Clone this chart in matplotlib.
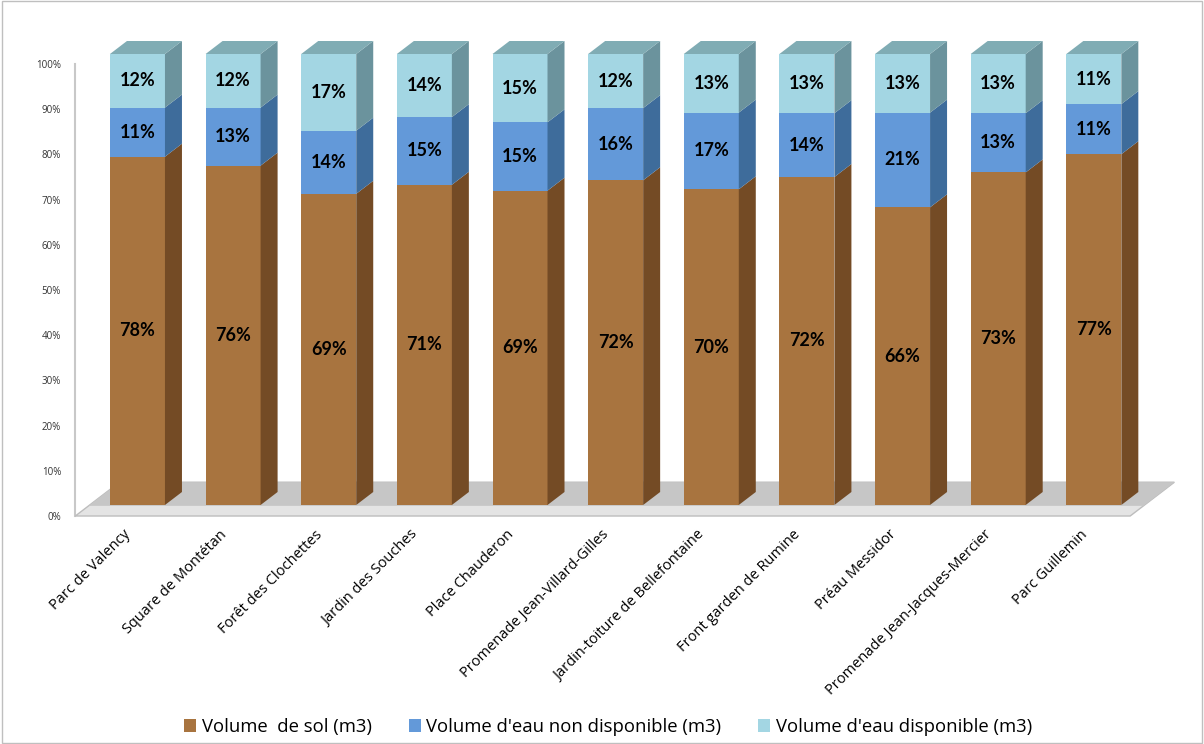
import numpy as np
import matplotlib
matplotlib.use("Agg")
import matplotlib.pyplot as plt
import matplotlib.transforms as mtransforms
from matplotlib.patches import Polygon, Patch, Rectangle

plt.rcParams['font.family'] = ['Open Sans', 'DejaVu Sans']

# Parks and their volume shares (%)
parks = ['Parc de Valency', 'Square de Montétan', 'Forêt des Clochettes',
         'Jardin des Souches', 'Place Chauderon', 'Promenade Jean-Villard-Gilles',
         'Jardin-toiture de Bellefontaine', 'Front garden de Rumine',
         'Préau Messidor', 'Promenade Jean-Jacques-Mercier', 'Parc Guillemin']
sol = [78, 76, 69, 71, 69, 72, 70, 72, 66, 73, 77]
eau_non_dispo = [11, 13, 14, 15, 15, 16, 17, 14, 21, 13, 11]
eau_dispo = [12, 12, 17, 14, 15, 12, 13, 13, 13, 13, 11]

series_names = ['Volume  de sol (m3)', "Volume d'eau non disponible (m3)",
                "Volume d'eau disponible (m3)"]
front_colors = ['#a8743f', '#6399d9', '#a3d6e3']
side_colors = ['#744b25', '#3e6c9b', '#6b939d']
top_color = '#80acb4'

W, H = 1204, 744
fig = plt.figure(figsize=(W / 100, H / 100), dpi=100)

def px_axes(left, top, right, bottom):
    return [left / W, 1 - bottom / H, (right - left) / W, (bottom - top) / H]

# back wall axis carrying the percent ticks
axb = fig.add_axes(px_axes(75, 64, 1156, 516))
axb.set_ylim(0, 100)
axb.set_xlim(0, 1)
axb.patch.set_alpha(0)
for s in ['top', 'right', 'bottom']:
    axb.spines[s].set_visible(False)
axb.spines['left'].set_color('#c8c8c8')
axb.spines['left'].set_linewidth(1.5)
axb.set_xticks([])
axb.set_yticks(np.arange(0, 101, 10))
axb.set_yticklabels([f'{v}%' for v in range(0, 101, 10)], fontsize=7, color='#333333')
axb.tick_params(axis='y', length=0, pad=10)

# main axes for the bars (front faces)
ax = fig.add_axes(px_axes(75.3, 54, 1156, 505))
ax.set_xlim(-0.65, 10.65)
ax.set_ylim(0, 100)
ax.patch.set_alpha(0)
for s in ax.spines.values():
    s.set_visible(False)

x = np.arange(len(parks))
width = 0.575
# depth offset of the 3d look, in data units
dx = 17 / 95.65
dy = 13 / 4.51

# floor
fx0, fx1 = -0.65, 10.38
fy0 = -2.44
fdx, fdy = 2.6 * dx, 2.6 * dy
floor = Polygon([(fx0, fy0), (fx1, fy0), (fx1 + fdx, fy0 + fdy), (fx0 + fdx, fy0 + fdy)],
                closed=True, facecolor='#e4e4e4', edgecolor='#bdbdbd', lw=1.0,
                clip_on=False, zorder=1)
ax.add_patch(floor)
inner = Polygon([(fx0 + 0.3 * fdx, fy0 + 0.3 * fdy), (fx1 + 0.3 * fdx, fy0 + 0.3 * fdy),
                 (fx1 + fdx, fy0 + fdy), (fx0 + fdx, fy0 + fdy)],
                closed=True, facecolor='#c6c6c6', edgecolor='none', clip_on=False, zorder=1)
ax.add_patch(inner)

data = np.array([sol, eau_non_dispo, eau_dispo], dtype=float)
totals = data.sum(axis=0)
shares = data / totals * 100

bottom = np.zeros(len(parks))
for k in range(3):
    h = shares[k]
    ax.bar(x, h, width=width, bottom=bottom, color=front_colors[k],
           edgecolor='none', zorder=3, clip_on=False)
    for i in range(len(parks)):
        xr = x[i] + width / 2
        y0, y1 = bottom[i], bottom[i] + h[i]
        side = Polygon([(xr, y0), (xr + dx, y0 + dy), (xr + dx, y1 + dy), (xr, y1)],
                       closed=True, facecolor=side_colors[k], edgecolor='none',
                       zorder=3, clip_on=False)
        ax.add_patch(side)
        ax.text(x[i], (y0 + y1) / 2, f'{int(data[k, i])}%', ha='center', va='center',
                fontsize=13, fontweight='bold', color='black', zorder=5,
                family=['Lato', 'DejaVu Sans'])
    bottom = bottom + h

for i in range(len(parks)):
    xl, xr, t = x[i] - width / 2, x[i] + width / 2, bottom[i]
    top = Polygon([(xl, t), (xl + dx, t + dy), (xr + dx, t + dy), (xr, t)],
                  closed=True, facecolor=top_color, edgecolor='none',
                  zorder=3, clip_on=False)
    ax.add_patch(top)

ax.set_yticks([])
ax.set_xticks(x)
ax.set_xticklabels(parks, rotation=45, ha='right', rotation_mode='anchor',
                   fontsize=10.5, color='black')
ax.tick_params(axis='x', length=0, pad=16)
shift = mtransforms.ScaledTranslation(-14 / 100, 0, fig.dpi_scale_trans)
for lab in ax.get_xticklabels():
    lab.set_transform(lab.get_transform() + shift)

handles = [Patch(facecolor=c, edgecolor='none') for c in front_colors]
fig.legend(handles, series_names, loc='center', bbox_to_anchor=(0.505, 1 - 727 / H),
           ncol=3, frameon=False, fontsize=13.3, handlelength=0.65, handleheight=0.65,
           handletextpad=0.3, columnspacing=2.0)

fig.patches.append(Rectangle((0.002, 0.002), 0.996, 0.996, transform=fig.transFigure,
                             fill=False, edgecolor='#bfbfbf', lw=1))

fig.savefig('out.png', dpi=100)
